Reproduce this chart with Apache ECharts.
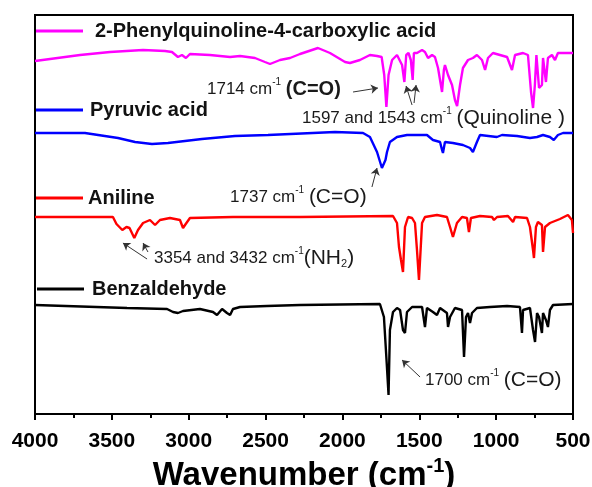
<!DOCTYPE html>
<html>
<head>
<meta charset="utf-8">
<script src="https://cdn.jsdelivr.net/npm/echarts@6/dist/echarts.min.js"></script>
<style>
  html, body { margin: 0; padding: 0; background: #fff; }
  #chart { width: 592px; height: 487px; }
</style>
</head>
<body>
<div id="chart"></div>
<script>
// FTIR spectra, stacked with vertical offsets (arbitrary transmittance units)
const xTicks = [4000, 3500, 3000, 2500, 2000, 1500, 1000, 500];

const quinolineName = '2-Phenylquinoline-4-carboxylic acid';
const pyruvicName = 'Pyruvic acid';
const anilineName = 'Aniline';
const benzName = 'Benzaldehyde';

const quinolineWn = [4000,3902,3707,3512,3297,3154,3109,3070,3044,3018,2992,2862,2731,2666,2569,2504,2471,2406,2341,2276,2159,2081,1983,1951,1886,1821,1775,1745,1728,1714,1700,1677,1645,1612,1597,1585,1570,1555,1543,1535,1515,1482,1463,1443,1417,1398,1378,1365,1352,1340,1333,1313,1287,1268,1254,1235,1216,1183,1151,1125,1092,1072,1053,1021,975,929,897,877,825,793,773,760,748,738,721,702,695,676,663,637,617,598,552,500];
const quinolineT = [353,355,359,362,364,363,362,357,359,356,360,359,357,358,356,352,350,354,356,360,366,361,352,351,354,359,358,357,339,307,339,354,359,349,332,359,361,354,334,361,361,364,362,356,359,357,346,334,322,344,349,339,329,314,308,329,346,354,356,359,354,344,356,361,359,357,344,359,361,359,322,306,329,359,326,329,356,332,356,359,354,361,361,361];

const pyruvicWn = [4000,3675,3460,3349,3239,3135,2914,2699,2484,2048,1866,1821,1775,1743,1737,1720,1710,1691,1645,1580,1450,1411,1365,1352,1346,1333,1281,1216,1170,1151,1125,1105,995,962,864,780,734,695,650,625,598,565,500];
const pyruvicT = [281,281,276,272,270,271,275,278,279,282,281,277,262,246,244,254,262,272,277,279,279,274,272,264,261,272,271,269,266,262,272,279,277,279,278,276,277,279,277,274,279,281,281];

const anilineWn = [4000,3493,3470,3432,3405,3385,3354,3330,3297,3252,3219,3187,3122,3057,3037,3024,2992,2712,2276,1671,1645,1632,1619,1606,1593,1573,1547,1528,1515,1502,1482,1463,1385,1320,1300,1281,1255,1222,1190,1177,1164,1105,1027,1014,994,923,890,877,799,780,760,754,741,728,702,695,682,650,585,533,507,500];
const anilineT = [197,197,190,184,187,186,176,184,191,194,189,194,196,194,186,189,196,197,197,198,191,167,154,142,187,197,196,191,164,134,191,197,199,197,187,177,191,197,196,182,196,198,197,194,197,198,192,197,196,187,164,156,187,192,189,162,187,191,195,199,194,181];

const benzWn = [4000,3401,3141,3102,3070,3037,2927,2842,2816,2783,2751,2731,2712,2666,2491,2276,1756,1730,1712,1700,1691,1671,1645,1625,1606,1593,1580,1547,1482,1463,1450,1411,1385,1365,1320,1313,1300,1268,1222,1209,1196,1183,1170,1157,1125,1040,929,845,832,825,780,760,747,734,721,702,695,676,663,650,630,500];
const benzT = [109,106,105,102,101,103,105,102,99,105,101,99,105,107,108,109,110,97,51,19,84,102,106,104,84,81,102,107,107,87,106,102,99,106,101,87,97,106,104,57,97,101,91,101,106,107,108,107,81,104,106,84,72,101,97,81,101,94,87,104,109,110];

// band assignments: label anchor [wavenumber, offset] and arrow [tail, head]
const quinolineNotes = [
  { at: [2881, 325], text: '1714 cm{sup|-1} {bigb|(C=O)}' },
  { at: [2263, 296], text: '1597 and 1543 cm{sup|-1} {big|(Quinoline )}' }
];
const quinolineArrows = [
  [[1931, 322], [1769, 326]],
  [[1547, 309], [1586, 328]],
  [[1534, 311], [1521, 329]]
];
const pyruvicNotes = [{ at: [2731, 217], text: '1737 cm{sup|-1} {big|(C=O)}' }];
const pyruvicArrows = [[[1808, 227], [1775, 246]]];
const anilineNotes = [{ at: [3226, 156], text: '3354 and 3432 cm{sup|-1}{big|(NH}{sub|2}{big|)}' }];
const anilineArrows = [
  [[3271, 155], [3428, 171]],
  [[3265, 162], [3297, 171]]
];
const benzNotes = [{ at: [1463, 34], text: '1700 cm{sup|-1} {big|(C=O)}' }];
const benzArrows = [[[1495, 37], [1612, 54]]];

const FONT = '"Liberation Sans", Arial, Helvetica, sans-serif';
const noteColor = '#1a1a1a';
const noteRich = {
  sup: { fontSize: 10, lineHeight: 12, verticalAlign: 'top', color: noteColor, fontFamily: FONT },
  sub: { fontSize: 11, lineHeight: 12, verticalAlign: 'bottom', color: noteColor, fontFamily: FONT },
  big: { fontSize: 21, lineHeight: 23, color: noteColor, fontFamily: FONT },
  bigb: { fontSize: 20, lineHeight: 23, fontWeight: 'bold', color: noteColor, fontFamily: FONT }
};

function zip(xs, ys) { return xs.map((x, i) => [x, ys[i]]); }

function buildSeries(name, color, wn, vals, notes, arrows) {
  return {
    name: name,
    type: 'line',
    data: zip(wn, vals),
    showSymbol: false,
    symbol: 'none',
    color: color,
    lineStyle: { color: color, width: 2.4 },
    animation: false,
    silent: true,
    markLine: {
      silent: true,
      animation: false,
      symbol: ['none', 'arrow'],
      symbolSize: 7,
      label: { show: false },
      lineStyle: { type: 'solid', color: '#333', width: 1 },
      emphasis: { disabled: true },
      data: arrows.map(a => [{ coord: a[0] }, { coord: a[1] }])
    },
    markPoint: {
      silent: true,
      animation: false,
      symbol: 'circle',
      symbolSize: 0,
      itemStyle: { color: 'transparent' },
      data: notes.map(n => ({
        coord: n.at,
        label: {
          show: true,
          position: 'right',
          distance: 0,
          formatter: n.text,
          fontSize: 17,
          lineHeight: 23,
          color: noteColor,
          fontFamily: FONT,
          rich: noteRich
        }
      }))
    }
  };
}

function legendFor(name, left, top, gap) {
  return {
    data: [name],
    left: left,
    top: top,
    padding: 0,
    icon: 'rect',
    itemWidth: 47,
    itemHeight: 3,
    selectedMode: false,
    textStyle: { fontSize: 20, lineHeight: 20, fontWeight: 'bold', color: '#111', fontFamily: FONT, padding: [0, 0, 0, gap] }
  };
}

const chart = echarts.init(document.getElementById('chart'), null, { renderer: 'canvas' });
chart.setOption({
  backgroundColor: '#fff',
  animation: false,
  grid: {
    left: 35, right: 19, top: 15, bottom: 73,
    outerBoundsMode: 'none', containLabel: false,
    show: true, borderColor: '#000', borderWidth: 2, backgroundColor: 'transparent'
  },
  legend: [
    legendFor(quinolineName, 36, 21, 7),
    legendFor(pyruvicName, 36, 100, 2),
    legendFor(anilineName, 36, 188, 0),
    legendFor(benzName, 37, 279, 3)
  ],
  xAxis: {
    type: 'value',
    inverse: true,
    min: xTicks[xTicks.length - 1],
    max: xTicks[0],
    interval: 500,
    name: 'Wavenumber (cm{sup|-1})',
    nameLocation: 'middle',
    nameGap: 34,
    nameTextStyle: {
      fontSize: 33, fontWeight: 'bold', color: '#000', fontFamily: FONT, lineHeight: 38,
      rich: { sup: { fontSize: 20, fontWeight: 'bold', lineHeight: 18, verticalAlign: 'top', color: '#000', fontFamily: FONT } }
    },
    axisLine: { show: true, lineStyle: { color: '#000', width: 2 } },
    axisTick: { show: true, inside: false, length: 6, lineStyle: { color: '#000', width: 2 } },
    minorTick: { show: true, splitNumber: 2, length: 4, lineStyle: { color: '#000', width: 2 } },
    splitLine: { show: false },
    minorSplitLine: { show: false },
    axisLabel: {
      margin: 17, fontSize: 21, fontWeight: 'bold', color: '#000', fontFamily: FONT,
      formatter: v => String(v)
    }
  },
  yAxis: { type: 'value', min: 0, max: 399, show: false },
  series: [
    buildSeries(quinolineName, '#ff00ff', quinolineWn, quinolineT, quinolineNotes, quinolineArrows),
    buildSeries(pyruvicName, '#0000ff', pyruvicWn, pyruvicT, pyruvicNotes, pyruvicArrows),
    buildSeries(anilineName, '#ff0000', anilineWn, anilineT, anilineNotes, anilineArrows),
    buildSeries(benzName, '#000000', benzWn, benzT, benzNotes, benzArrows)
  ]
});
</script>
</body>
</html>
